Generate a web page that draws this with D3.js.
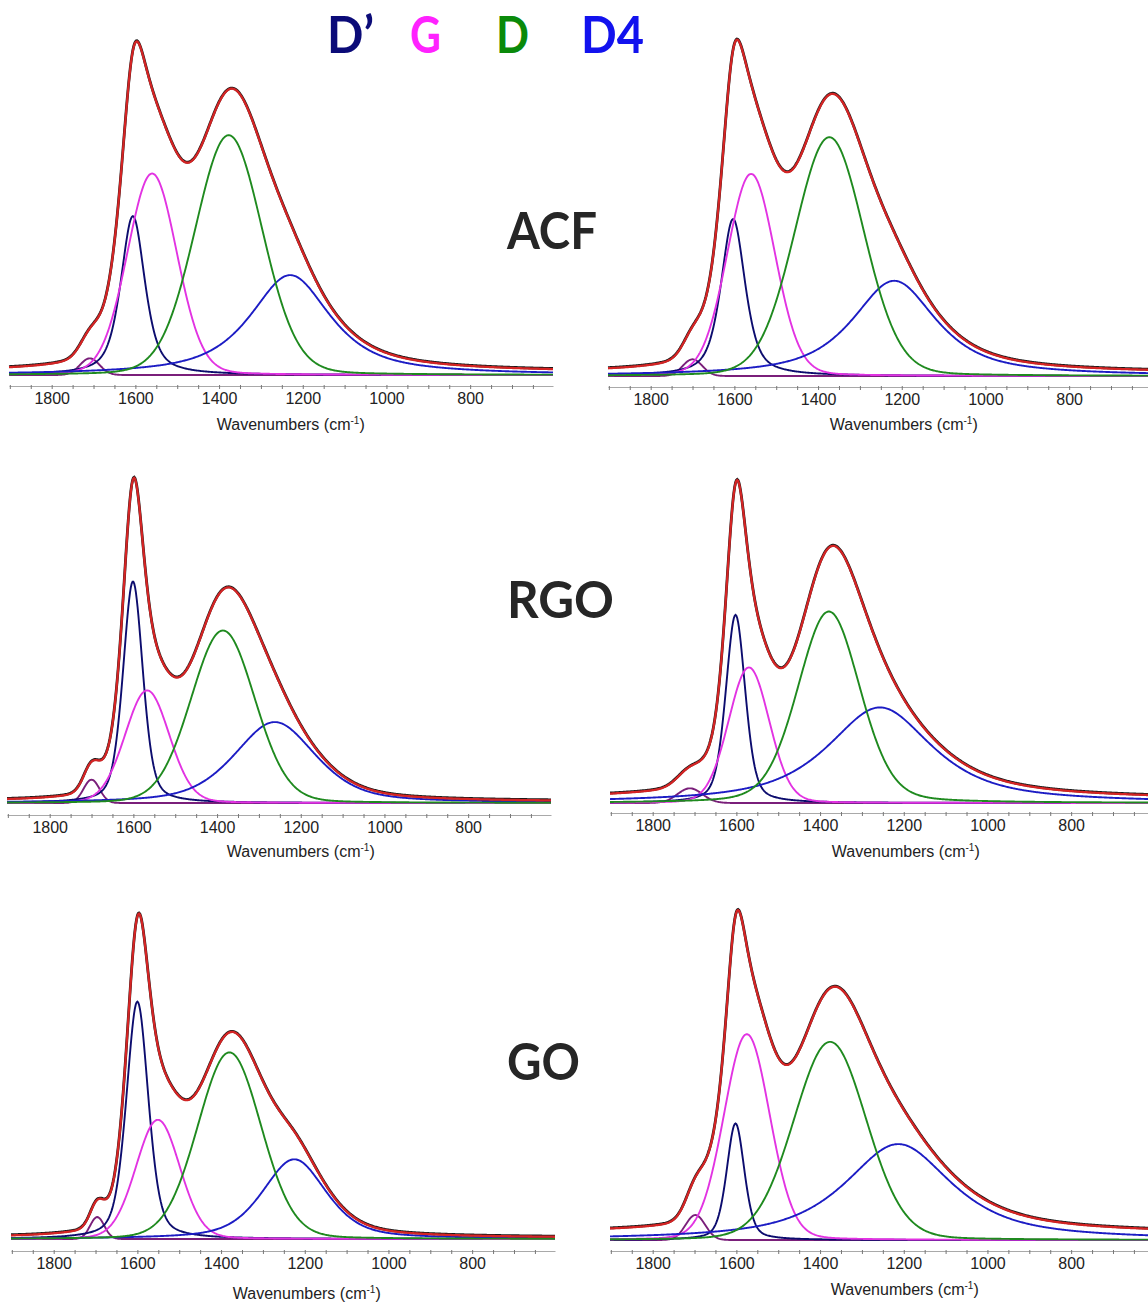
<!DOCTYPE html>
<html><head><meta charset="utf-8">
<script src="https://cdn.jsdelivr.net/npm/d3@7"></script>
<style>body{margin:0;background:#fff}svg{display:block}</style>
</head><body>
<svg id="chart" width="1148" height="1306"></svg>
<script>
// ---------------- data ----------------
const sampleLabels = ["ACF", "RGO", "GO"];
const legendNames = ["D’", "G", "D", "D4"];
const majorTicks = [1800, 1600, 1400, 1200, 1000, 800];
const minorTicks = [1900, 1850, 1750, 1700, 1650, 1550, 1500, 1450, 1350, 1300, 1250, 1150, 1100, 1050, 950, 900, 850, 750, 700, 650];
const wavenumberRange = [1902, 602];
const componentNames = ["D'", "G", "D", "D4", "1700 band"];
// fitted bands, one row per component above:
// [centre (cm-1), height (a.u.), FWHM (cm-1), Lorentzian fraction]
const acfLeft  = [[1606, 0.477, 68, 0.6], [1560, 0.605, 140, 0.1], [1377, 0.72, 190, 0.1], [1230, 0.30, 230, 0.8], [1709, 0.05, 55, 0]];
const acfRight = [[1603, 0.47, 68, 0.6], [1560, 0.605, 135, 0.1], [1373, 0.715, 195, 0.1], [1218, 0.285, 240, 0.8], [1700, 0.05, 55, 0]];
const rgoLeft  = [[1601, 0.665, 56, 0.4], [1567, 0.338, 125, 0.1], [1386, 0.518, 180, 0.1], [1262, 0.243, 230, 0.5], [1700, 0.07, 45, 0]];
const rgoRight = [[1602, 0.565, 55, 0.4], [1570, 0.407, 115, 0.1], [1379, 0.575, 175, 0.2], [1257, 0.287, 300, 0.8], [1711, 0.044, 70, 0]];
const goLeft   = [[1600, 0.715, 62, 0.4], [1551, 0.359, 124, 0.1], [1380, 0.562, 179, 0.1], [1225, 0.24, 180, 0.5], [1696, 0.066, 40, 0]];
const goRight  = [[1602, 0.35, 50, 0.4], [1575, 0.618, 130, 0.1], [1376, 0.595, 205, 0.1], [1213, 0.288, 306, 0.8], [1698, 0.075, 55, 0]];
const spectrumOffset = [0.01, 0.01, 0.005, 0.012, 0.005, 0.02];
const panelFits = [acfLeft, acfRight, rgoLeft, rgoRight, goLeft, goRight];

// ---------------- layout / style ----------------
const layout = [
  {x0: 9,   axisY: 386, top: 42,  base: 375,  titleDx: -12, titleDy: 44},
  {x0: 608, axisY: 387, top: 42,  base: 376,  titleDx: 2,   titleDy: 43},
  {x0: 7,   axisY: 815, top: 470, base: 803,  titleDx: 0,   titleDy: 42},
  {x0: 610, axisY: 813, top: 470, base: 803,  titleDx: 2,   titleDy: 44},
  {x0: 11,  axisY: 1251, top: 907, base: 1239, titleDx: 2,  titleDy: 48},
  {x0: 610, axisY: 1251, top: 907, base: 1240, titleDx: 1,  titleDy: 44}
];
const plotWidth = 544;
const compColors = ["#0c0c6e", "#e233e2", "#1f8a1f", "#1c1cc4", "#7a1f7a"];
const legendColors = ["#0b0b78", "#ff22ff", "#0a8a0a", "#1212ee"];
const drawOrder = [4, 0, 1, 3, 2];

const svg = d3.select("#chart");
svg.append("rect").attr("width", 1148).attr("height", 1306).attr("fill", "#fff");

function band(w, p) {
  const t = (w - p[0]) / p[2];
  const lor = 1 / (1 + 4 * t * t);
  const gau = Math.exp(-4 * Math.LN2 * t * t);
  return p[1] * (p[3] * lor + (1 - p[3]) * gau);
}

const grid = d3.range(wavenumberRange[0], wavenumberRange[1] - 1, -2);

panelFits.forEach((fit, i) => {
  const L = layout[i];
  const x = d3.scaleLinear().domain(wavenumberRange).range([L.x0, L.x0 + plotWidth]);
  const y = d3.scaleLinear().domain([0, 1]).range([L.base, L.top]);
  const g = svg.append("g");
  const line = d3.line().x(d => x(d[0])).y(d => y(d[1])).curve(d3.curveLinear);

  // axis
  const ax = d3.axisBottom(x)
    .tickValues(majorTicks.concat(minorTicks))
    .tickSizeInner(3).tickSizeOuter(0).tickPadding(4)
    .tickFormat(v => majorTicks.includes(v) ? String(v) : "");
  const ag = g.append("g").attr("transform", `translate(0,${L.axisY})`).call(ax);
  ag.select(".domain").attr("stroke", "#a9a9a9").attr("stroke-width", 1.2);
  ag.selectAll(".tick line").attr("stroke", "#777").attr("y1", -1);
  ag.selectAll(".tick text").attr("fill", "#222").attr("font-size", 16)
    .attr("font-family", "'Liberation Sans', Arial, sans-serif");

  const t = g.append("text")
    .attr("x", x(1200) + L.titleDx).attr("y", L.axisY + L.titleDy)
    .attr("text-anchor", "middle").attr("fill", "#222").attr("font-size", 16)
    .attr("font-family", "'Liberation Sans', Arial, sans-serif");
  t.append("tspan").text("Wavenumbers (cm");
  t.append("tspan").attr("font-size", 10).attr("dy", -6).text("-1");
  t.append("tspan").attr("dy", 6).text(")");

  // component bands
  drawOrder.forEach(k => {
    const pts = grid.map(w => [w, band(w, fit[k])]);
    g.append("path").attr("d", line(pts)).attr("fill", "none")
      .attr("stroke", compColors[k]).attr("stroke-width", 1.9);
  });
  // total fit (black) and measured spectrum (red)
  const total = grid.map(w => [w, spectrumOffset[i] + d3.sum(fit, p => band(w, p))]);
  g.append("path").attr("d", line(total)).attr("fill", "none")
    .attr("stroke", "#1a1a1a").attr("stroke-width", 2.8);
  g.append("path").attr("d", line(total)).attr("fill", "none")
    .attr("stroke", "#d42424").attr("stroke-width", 2.3)
    .attr("transform", "translate(0,0.6)");
});

// sample labels
const labelY = [249, 618, 1080];
const labelW = [90, 107, 73];
sampleLabels.forEach((s, i) => {
  svg.append("text").attr("x", 507).attr("y", labelY[i])
    .attr("font-family", "Lato, 'Open Sans', sans-serif").attr("font-weight", 700)
    .attr("font-size", 51).attr("fill", "#262626")
    .attr("textLength", labelW[i]).attr("lengthAdjust", "spacingAndGlyphs")
    .text(s);
});

// legend letters
const legendX = [327, 410, 496, 581];
const legendW = [47, 31, 33, 63];
legendNames.forEach((s, i) => {
  svg.append("text").attr("x", legendX[i]).attr("y", 53)
    .attr("font-family", "Lato, 'Open Sans', sans-serif").attr("font-weight", 700)
    .attr("font-size", 51).attr("fill", legendColors[i])
    .attr("textLength", legendW[i]).attr("lengthAdjust", "spacingAndGlyphs")
    .text(s);
});
</script>
</body></html>
